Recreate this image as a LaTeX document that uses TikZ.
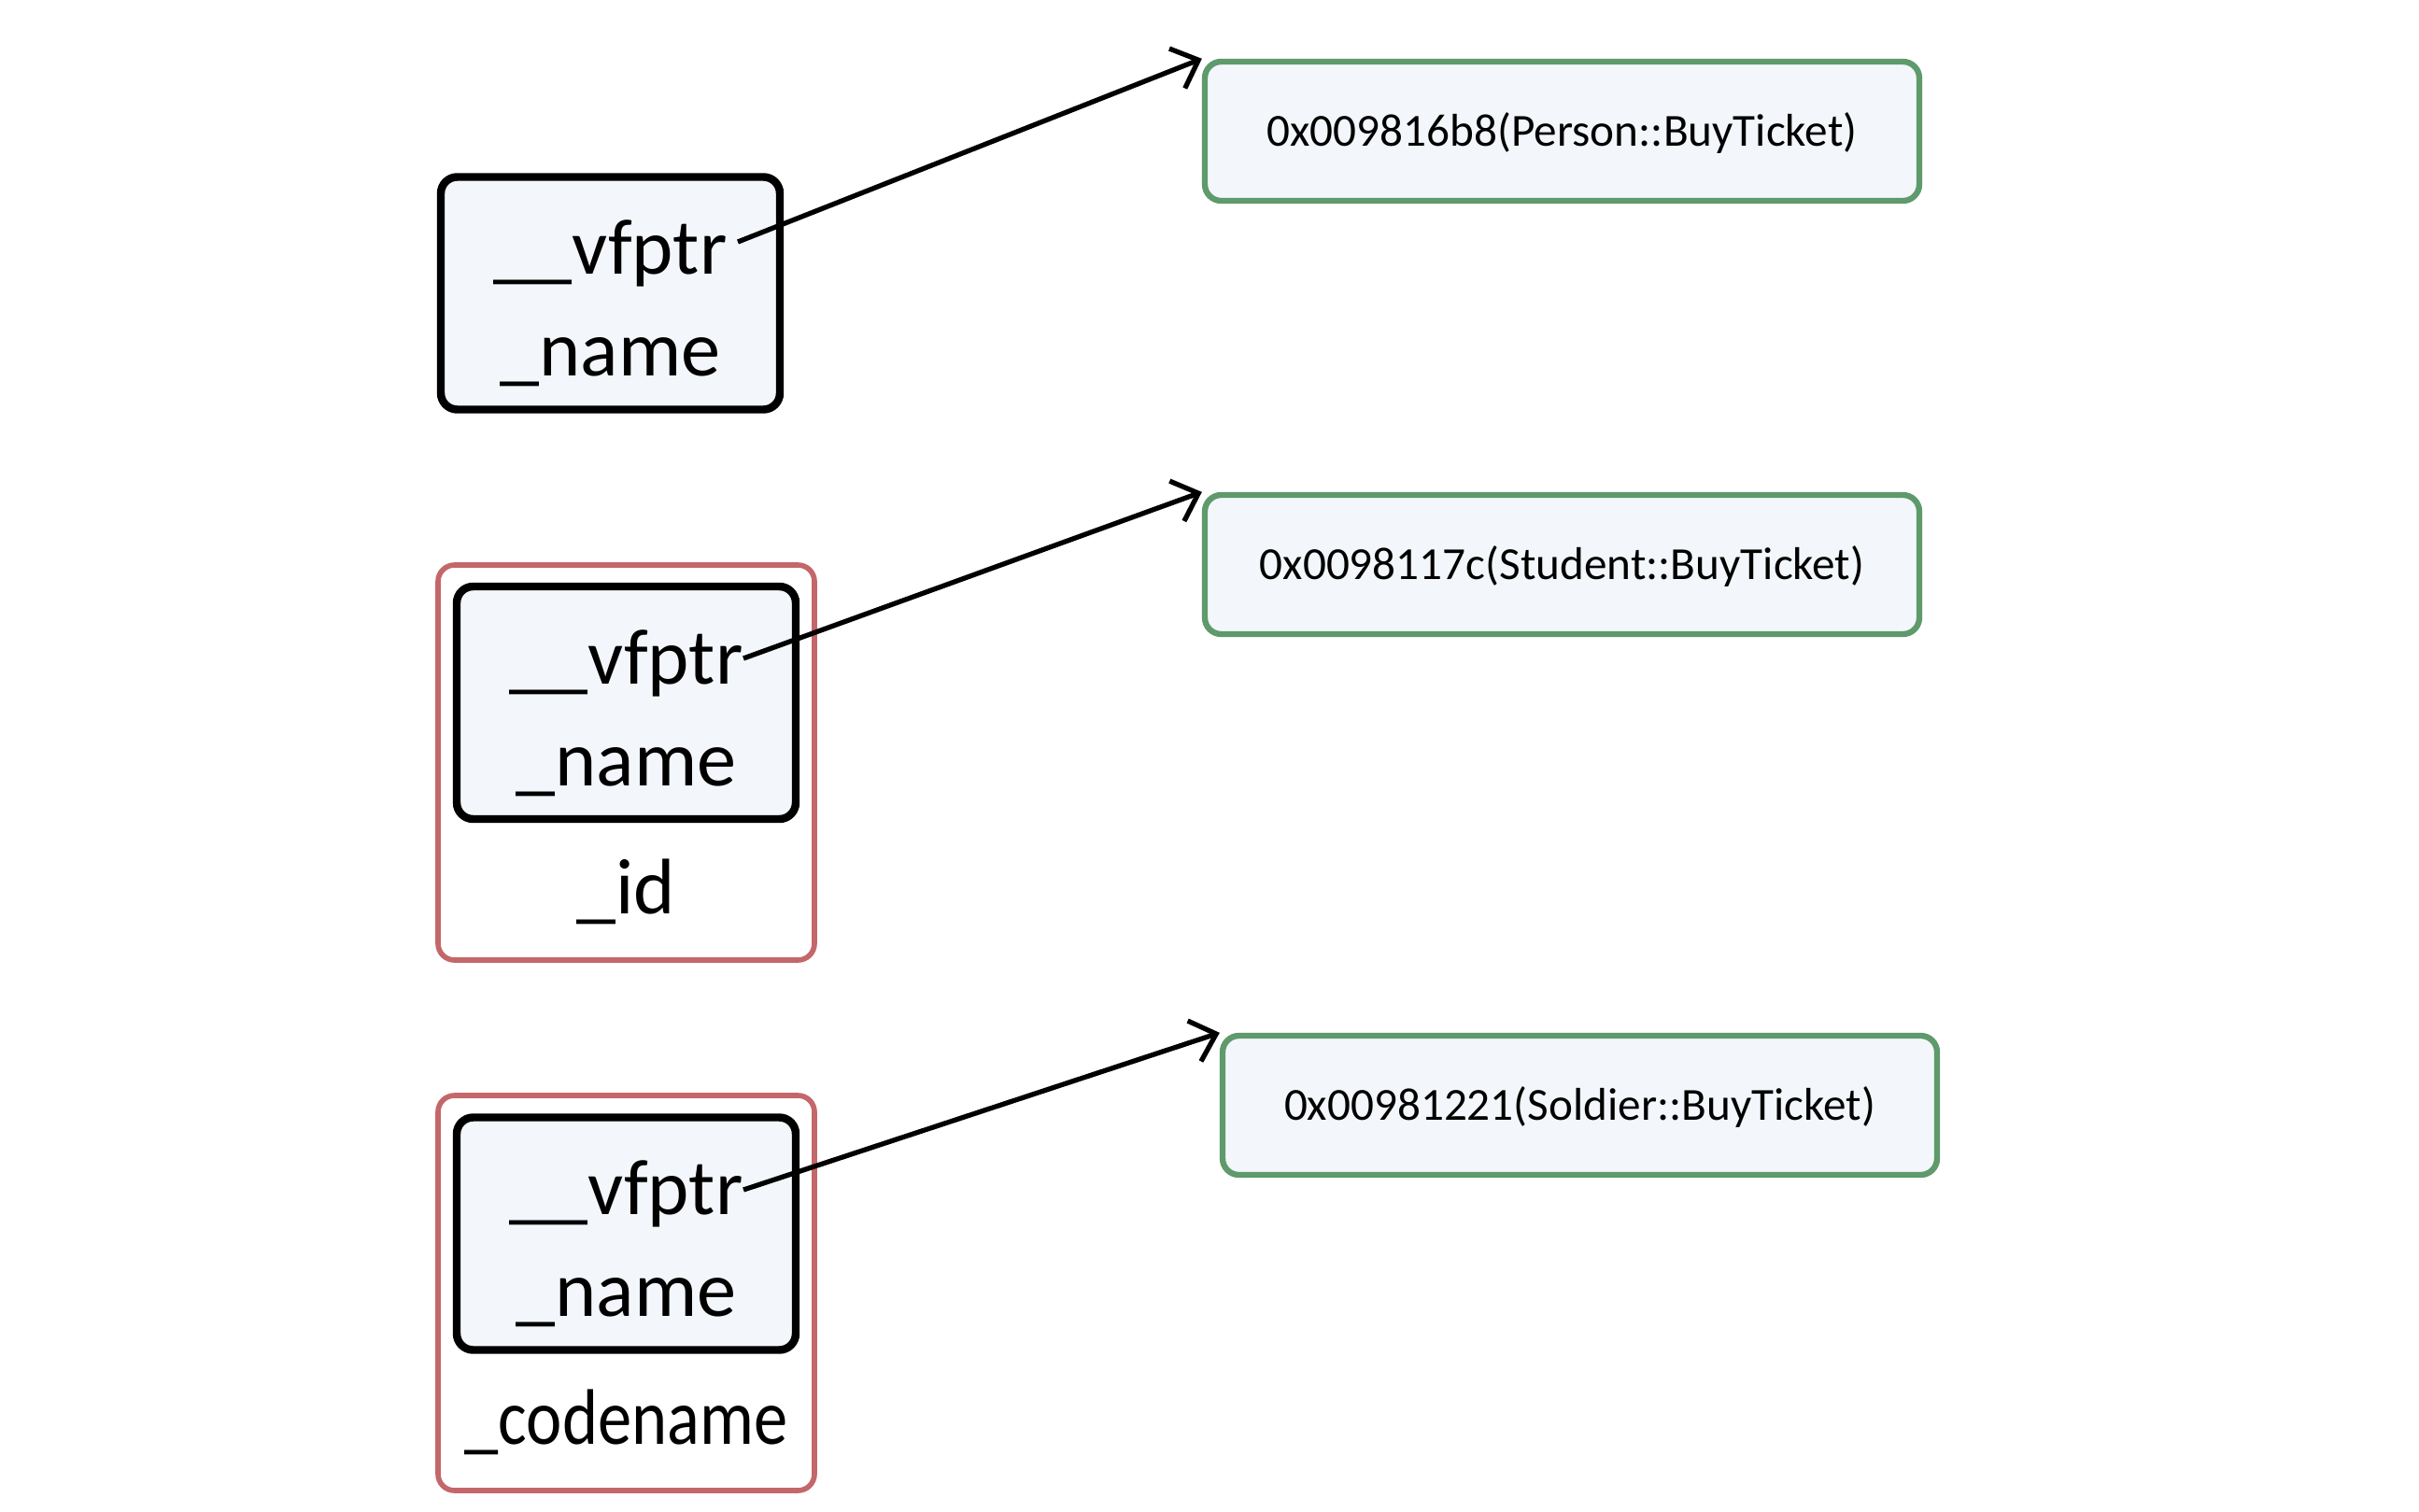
\documentclass[tikz,border=0pt]{standalone}
\usepackage{fontspec}
\setmainfont{Carlito}
\newfontfamily\estrecha[FakeStretch=0.86]{Carlito}
\usetikzlibrary{arrows.meta}

\definecolor{fondo}{HTML}{F3F6FA}
\definecolor{verde}{HTML}{5E9A6C}
\definecolor{rojo}{HTML}{C4676A}

\begin{document}
\begin{tikzpicture}[
    obj/.style={rectangle, rounded corners=5pt, draw, line width=2.4pt,
                fill=fondo, minimum width=3.63cm, minimum height=2.49cm},
    campos/.style={align=center, font=\fontsize{24}{31}\selectfont},
    marco/.style={rectangle, rounded corners=5pt, draw=rojo, line width=1.6pt,
                fill=white, minimum width=4.03cm, minimum height=4.23cm},
    tabla/.style={rectangle, rounded corners=5pt, draw=verde, line width=1.8pt,
                fill=fondo, minimum width=7.65cm, minimum height=1.49cm,
                text height=1em, text depth=0.1em,
                font=\fontsize{14}{17}\selectfont},
    campo/.style={font=\fontsize{24}{29}\selectfont},
    >={Straight Barb[length=7pt,width=13pt]}
]
\useasboundingbox (0,0) rectangle (25.9,16.18);

% Objetos
\node[obj] (person) at (6.535,13.04) {};
\node[campos] (persontxt) at ([yshift=-0.11cm]person.center) {\_\_vfptr\\\_name};

\node[marco] (student) at (6.705,8.015) {};
\node[obj] (stubase) at (6.705,8.655) {};
\node[campos] (stutxt) at ([yshift=-0.11cm]stubase.center) {\_\_vfptr\\\_name};
\node[campo] (id) at (6.705,6.63) {\_id};

\node[marco] (soldier) at (6.705,2.335) {};
\node[obj] (solbase) at (6.705,2.97) {};
\node[campos] (soltxt) at ([yshift=-0.11cm]solbase.center) {\_\_vfptr\\\_name};
\node[campo] (codename) at (6.705,0.95) {\estrecha\_codename};

% Tablas virtuales
\node[tabla] (vt1) at (16.725,14.775) {0x009816b8(Person::BuyTicket)};
\node[tabla] (vt2) at (16.725,10.135) {0x0098117c(Student::BuyTicket)};
\node[tabla] (vt3) at (16.915,4.345) {0x00981221(Soldier::BuyTicket)};

% Flechas
\coordinate (p1) at (7.90,13.59);
\coordinate (p2) at (7.96,9.13);
\coordinate (p3) at (7.96,3.44);
\draw[->, line width=1.5pt] (p1) -- (vt1.north west);
\draw[->, line width=1.5pt] (p2) -- (vt2.north west);
\draw[->, line width=1.5pt] (p3) -- (vt3.north west);

\end{tikzpicture}
\end{document}
